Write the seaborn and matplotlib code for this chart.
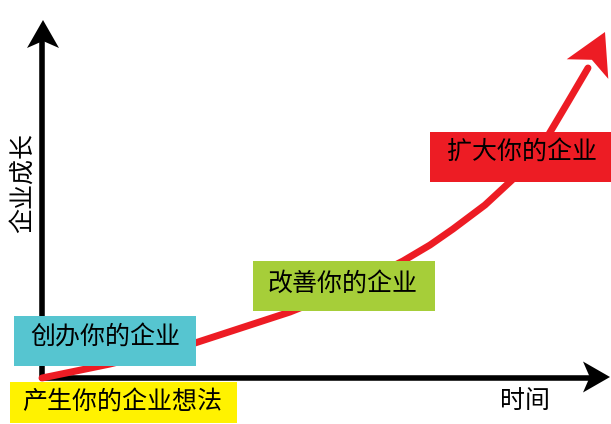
import numpy as np
import pandas as pd
import matplotlib
matplotlib.use("Agg")
import matplotlib.pyplot as plt
import seaborn as sns
from matplotlib.patches import Polygon, Rectangle

# growth curve (time vs. business growth)
time = [0, 68, 153, 248, 308, 361, 388, 411, 443, 470, 507, 526, 546, 563]
growth = [0, 14, 35, 66, 90, 117, 133, 149, 173, 198, 244, 276, 310, 346]

x_label = "时间"
y_label = "企业成长"

stage_labels = ["产生你的企业想法", "创办你的企业", "改善你的企业", "扩大你的企业"]
stage_colors = ["#FFF200", "#56C5D0", "#A6CE39", "#ED1C24"]
# box (left, bottom, width, height) and text centre for each stage
stage_boxes = [(-32, -45, 227, 41), (-28, 12, 182, 50), (211, 67, 182, 50), (388, 196, 181, 50)]
stage_text = [(80, -24), (63, 41), (301, 94), (480, 226)]

RED = "#ED1C24"


def stealth_head(ax, tip, direction, length, width, color, zorder=5):
    """Draw a notched arrow head (1 data unit == 1 pixel)."""
    d = np.asarray(direction, dtype=float)
    d = d / np.linalg.norm(d)
    n = np.array([-d[1], d[0]])
    tip = np.asarray(tip, dtype=float)
    base = tip - d * length
    pts = [tip, base + n * width / 2, tip - d * length * 0.75, base - n * width / 2]
    ax.add_patch(Polygon(pts, closed=True, facecolor=color, edgecolor="none", zorder=zorder))


sns.set_theme(style="white")
plt.rcParams["font.family"] = ["Noto Sans CJK SC", "DejaVu Sans"]

fig = plt.figure(figsize=(6.11, 4.24), dpi=100)
ax = fig.add_axes([0, 0, 1, 1])
ax.set_xlim(-42, 569)
ax.set_ylim(-46, 378)
ax.axis("off")

# axes arrows
ax.plot([0, 0], [-2, 358 - 21], color="black", lw=4, solid_capstyle="butt", zorder=2)
stealth_head(ax, (1, 358), (0, 1), 28, 32, "black", zorder=2)
ax.plot([-2, 568 - 20], [0, 0], color="black", lw=4, solid_capstyle="butt", zorder=2)
stealth_head(ax, (568, 1), (1, 0), 27, 31, "black", zorder=2)

# growth curve
df = pd.DataFrame({"time": time[:-1], "growth": growth[:-1]})
sns.lineplot(data=df, x="time", y="growth", sort=False, estimator=None,
             color=RED, lw=5, ax=ax, zorder=3)
stealth_head(ax, (time[-1], growth[-1]),
             (time[-1] - time[-2], growth[-1] - growth[-2]), 41, 46, RED, zorder=3)
ax.set_xlabel("")
ax.set_ylabel("")

# stage boxes
for label, color, box, pos in zip(stage_labels, stage_colors, stage_boxes, stage_text):
    l, b, w, h = box
    ax.add_patch(Rectangle((l, b), w, h, facecolor=color, edgecolor="none", zorder=4))
    ax.text(pos[0], pos[1], label, ha="center", va="center", fontsize=18,
            color="black", zorder=5)

ax.text(483, -23, x_label, ha="center", va="center", fontsize=18, color="black")
ax.text(-19, 195, y_label, ha="center", va="center", fontsize=18, color="black",
        rotation=90)

fig.savefig("out.png", dpi=100)
